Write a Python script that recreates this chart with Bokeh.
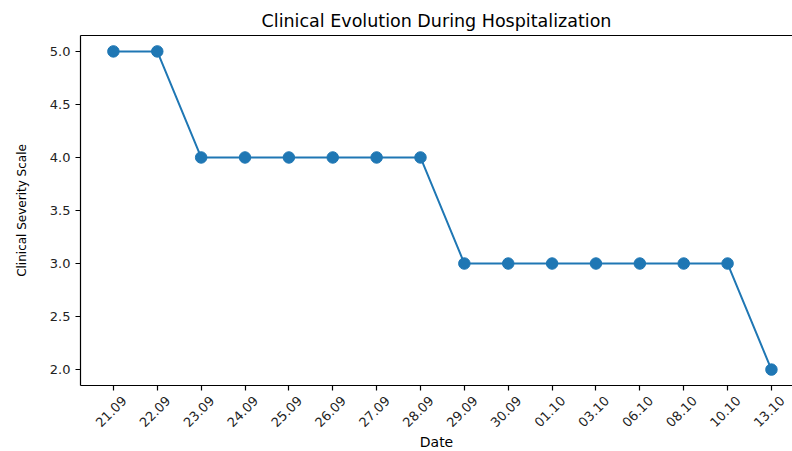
import math
from bokeh.plotting import figure
from bokeh.models import Range1d, FixedTicker, PrintfTickFormatter, LinearAxis
from bokeh.embed import file_html
from bokeh.resources import INLINE

dates = ["21.09", "22.09", "23.09", "24.09", "25.09", "26.09", "27.09", "28.09",
         "29.09", "30.09", "01.10", "03.10", "06.10", "08.10", "10.10", "13.10"]
severity = [5, 5, 4, 4, 4, 4, 4, 4, 3, 3, 3, 3, 3, 3, 3, 2]
y_ticks = [2.0, 2.5, 3.0, 3.5, 4.0, 4.5, 5.0]

xs = list(range(len(dates)))
FONT = "DejaVu Sans"
BLUE = "#1f77b4"
X0, X1 = -0.75, 15.48
SHIFT = 0.25  # moves the rotated labels so that they are centred on their ticks

p = figure(frame_width=712, frame_height=350, output_backend="svg", toolbar_location=None,
           x_range=Range1d(X0, X1), y_range=Range1d(1.85, 5.15),
           min_border_left=80, min_border_right=0, min_border_top=35, min_border_bottom=10)
p.extra_x_ranges = {"lab": Range1d(X0 - SHIFT, X1 - SHIFT)}
p.outline_line_color = None
p.xgrid.visible = False
p.ygrid.visible = False

p.line(xs, severity, line_color=BLUE, line_width=2)
p.scatter(xs, severity, size=11.5, fill_color=BLUE, line_color=BLUE)

p.title.text = "Clinical Evolution During Hospitalization"
p.title.text_font = FONT
p.title.text_font_size = "17.5px"
p.title.text_font_style = "normal"
p.title.text_color = "#000000"
p.title.align = "center"
p.title.offset = 6

for ax in (p.xaxis[0], p.yaxis[0]):
    ax.axis_line_color = "#000000"
    ax.axis_line_width = 1.2
    ax.major_tick_line_color = "#000000"
    ax.major_tick_line_width = 1.2
    ax.major_tick_out = 5
    ax.major_tick_in = 0
    ax.minor_tick_line_color = None
    ax.major_label_text_font = FONT
    ax.major_label_text_font_size = "13px"
    ax.major_label_text_color = "#222222"

p.xaxis[0].ticker = FixedTicker(ticks=xs)
p.xaxis[0].major_label_overrides = {i: "" for i in xs}
p.xaxis[0].major_label_standoff = 0

lab = LinearAxis(x_range_name="lab", ticker=FixedTicker(ticks=xs),
                 major_label_overrides={i: d for i, d in enumerate(dates)},
                 major_label_orientation=math.pi / 4,
                 major_label_standoff=2,
                 axis_line_color=None, major_tick_line_color=None, minor_tick_line_color=None,
                 major_label_text_font=FONT, major_label_text_font_size="13px",
                 major_label_text_color="#222222",
                 axis_label="Date", axis_label_text_font=FONT,
                 axis_label_text_font_size="14px", axis_label_text_font_style="normal",
                 axis_label_text_color="#000000", axis_label_standoff=0)
p.add_layout(lab, "below")

p.yaxis[0].ticker = FixedTicker(ticks=y_ticks)
p.yaxis[0].formatter = PrintfTickFormatter(format="%.1f")
p.yaxis[0].axis_label = "Clinical Severity Scale"
p.yaxis[0].axis_label_text_font = FONT
p.yaxis[0].axis_label_text_font_style = "normal"
p.yaxis[0].axis_label_text_color = "#000000"
p.yaxis[0].axis_label_text_font_size = "12px"
p.yaxis[0].axis_label_standoff = 18

top = LinearAxis(axis_line_color="#000000", axis_line_width=1.2,
                 major_tick_line_color=None, minor_tick_line_color=None,
                 major_label_text_font_size="0px", ticker=FixedTicker(ticks=[]))
p.add_layout(top, "above")

open("out.html", "w").write(file_html(p, INLINE))
